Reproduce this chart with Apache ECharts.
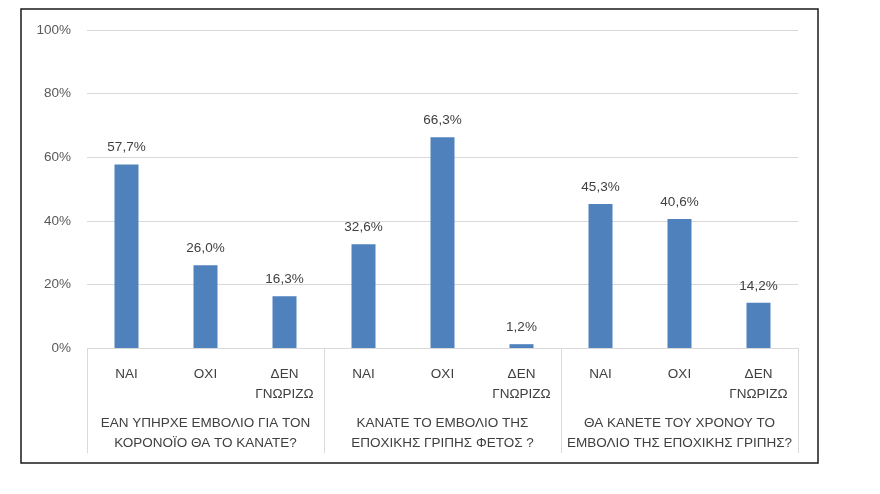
<!DOCTYPE html>
<html>
<head>
<meta charset="utf-8">
<script src="https://cdn.jsdelivr.net/npm/echarts@6/dist/echarts.min.js"></script>
<style>
html,body{margin:0;padding:0;background:#fff;}
#c{width:880px;height:494px;}
</style>
</head>
<body>
<div id="c"></div>
<script>
const answers = ['ΝΑΙ','ΟΧΙ','ΔΕΝ\nΓΝΩΡΙΖΩ','ΝΑΙ','ΟΧΙ','ΔΕΝ\nΓΝΩΡΙΖΩ','ΝΑΙ','ΟΧΙ','ΔΕΝ\nΓΝΩΡΙΖΩ'];
const questions = [
  'ΕΑΝ ΥΠΗΡΧΕ ΕΜΒΟΛΙΟ ΓΙΑ ΤΟΝ\nΚΟΡΟΝΟΪΟ ΘΑ ΤΟ ΚΑΝΑΤΕ?',
  'ΚΑΝΑΤΕ ΤΟ ΕΜΒΟΛΙΟ ΤΗΣ\nΕΠΟΧΙΚΗΣ ΓΡΙΠΗΣ ΦΕΤΟΣ ?',
  'ΘΑ ΚΑΝΕΤΕ ΤΟΥ ΧΡΟΝΟΥ ΤΟ\nΕΜΒΟΛΙΟ ΤΗΣ ΕΠΟΧΙΚΗΣ ΓΡΙΠΗΣ?'
];
const values = [57.7, 26.0, 16.3, 32.6, 66.3, 1.2, 45.3, 40.6, 14.2];
const yTicks = [0, 20, 40, 60, 80, 100];

const font = '"Liberation Sans", Arial, sans-serif';
const chart = echarts.init(document.getElementById('c'));
chart.setOption({
  animation: false,
  graphic: [{
    type: 'rect', shape: {x: 21, y: 9, width: 797, height: 454},
    style: {fill: 'none', stroke: '#1a1a1a', lineWidth: 1.5}, z: 0
  }],
  grid: {left: 87, right: 82, top: 30, bottom: 146},
  yAxis: {
    type: 'value', min: yTicks[0], max: yTicks[yTicks.length - 1], interval: 20,
    axisLine: {show: false}, axisTick: {show: false},
    axisLabel: {formatter: v => v + '%', color: '#595959', fontSize: 13.5, fontFamily: font, margin: 16},
    splitLine: {lineStyle: {color: '#d9d9d9', width: 1}}
  },
  xAxis: [{
    type: 'category', data: answers, position: 'bottom',
    axisLine: {show: false}, axisTick: {show: false},
    axisLabel: {interval: 0, color: '#404040', fontSize: 13.5, fontFamily: font, margin: 16, lineHeight: 20}
  }, {
    type: 'category', data: questions, position: 'bottom',
    axisLine: {show: false},
    axisTick: {show: true, interval: 0, length: 105, lineStyle: {color: '#d9d9d9', width: 1}},
    axisLabel: {interval: 0, color: '#404040', fontSize: 13.5, fontFamily: font, margin: 65, lineHeight: 20}
  }],
  series: [{
    type: 'bar', xAxisIndex: 0, data: values, barWidth: 24,
    itemStyle: {color: '#4f81bd'},
    label: {show: true, position: 'top', distance: 10, color: '#404040', fontSize: 13.5, fontFamily: font,
      formatter: p => p.value.toFixed(1).replace('.', ',') + '%'}
  }]
});
</script>
</body>
</html>
